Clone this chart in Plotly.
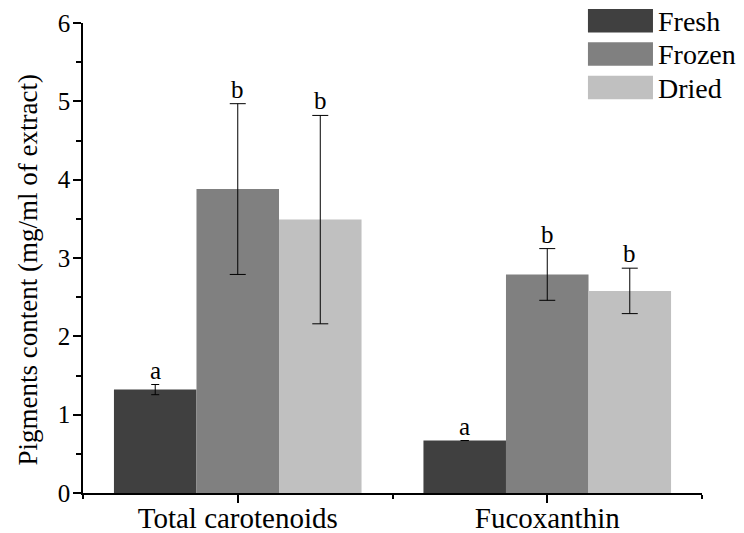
import plotly.graph_objects as go

categories = ["Total carotenoids", "Fucoxanthin"]
series_names = ["Fresh", "Frozen", "Dried"]
fresh = [1.32, 0.67]
frozen = [3.88, 2.79]
dried = [3.49, 2.58]
fresh_err = [0.065, None]
frozen_err = [1.09, 0.33]
dried_err = [1.33, 0.29]
fresh_letters = ["a", "a"]
frozen_letters = ["b", "b"]
dried_letters = ["b", "b"]
y_ticks = [0, 1, 2, 3, 4, 5, 6]
y_title = "Pigments content (mg/ml of extract)"

colors = ["#404040", "#808080", "#c0c0c0"]
cap_widths = [4, 8, 8]
FONT = "Times New Roman, Liberation Serif, serif"

values = [fresh, frozen, dried]
errs = [fresh_err, frozen_err, dried_err]
letters = [fresh_letters, frozen_letters, dried_letters]
xpos = list(range(len(categories)))

fig = go.Figure()
for name, v, e, c, cw in zip(series_names, values, errs, colors, cap_widths):
    fig.add_trace(go.Bar(
        x=xpos, y=v, name=name, marker=dict(color=c, line=dict(width=0)),
        error_y=dict(type="data", array=e, visible=True, color="black",
                     thickness=1, width=cw),
        showlegend=False,
    ))

group_w = 0.8
n = len(series_names)
bw = group_w / n
annotations = []
for j in range(n):
    for i in xpos:
        top = values[j][i] + (errs[j][i] or 0)
        annotations.append(dict(
            x=i + (j - (n - 1) / 2) * bw, y=top, xref="x", yref="y",
            text=letters[j][i], showarrow=False, yanchor="bottom", yshift=-1,
            font=dict(family=FONT, size=25, color="black")))

# window-pixel -> paper helpers (plot area in window pixels)
L, R, T, B = 83.3, 702.0, 23.3, 493.0
def px(x):
    return (x - L) / (R - L)
def py(y):
    return (B - y) / (B - T)

# manual legend (large swatches like the original)
shapes = []
box_tops = [9.3, 42.5, 76.0]
for name, c, bt in zip(series_names, colors, box_tops):
    shapes.append(dict(type="rect", xref="paper", yref="paper",
                       x0=px(588), x1=px(653), y0=py(bt + 23.5), y1=py(bt),
                       fillcolor=c, line=dict(width=0)))
    annotations.append(dict(x=px(656), y=py(bt + 12.5), xref="paper", yref="paper",
                            text=name, showarrow=False, xanchor="left", yanchor="middle",
                            font=dict(family=FONT, size=28, color="black")))

# y-axis title
annotations.append(dict(x=px(28), y=py(270), xref="paper", yref="paper",
                        text=y_title, textangle=-90, showarrow=False,
                        xanchor="center", yanchor="middle",
                        font=dict(family=FONT, size=27, color="black")))

# page body has an 8px margin, so the figure is offset by 8px
fig.update_layout(
    width=736, height=525,
    margin=dict(l=75, r=42, t=15, b=40, autoexpand=False),
    plot_bgcolor="white", paper_bgcolor="white",
    barmode="group", bargap=1 - group_w, bargroupgap=0,
    font=dict(family=FONT, color="black"),
    shapes=shapes, annotations=annotations,
    xaxis=dict(range=[-0.5, len(categories) - 0.5], tickmode="array",
               tickvals=xpos, ticktext=categories, automargin=False,
               ticks="outside", ticklen=8, tickwidth=1.5, tickcolor="black",
               ticklabelstandoff=-10,
               showline=True, linecolor="black", linewidth=1.5,
               showgrid=False, zeroline=False,
               tickfont=dict(family=FONT, size=29, color="black"),
               minor=dict(tickmode="array", tickvals=[-0.5, 0.5, 1.5],
                          ticks="outside", ticklen=4, tickwidth=1.5, tickcolor="black")),
    yaxis=dict(range=[0, 6], tickmode="array", tickvals=y_ticks, automargin=False,
               ticks="outside", ticklen=8, tickwidth=1.5, tickcolor="black",
               ticklabelstandoff=-2,
               showline=True, linecolor="black", linewidth=1.5,
               showgrid=False, zeroline=False,
               tickfont=dict(family=FONT, size=25, color="black"),
               minor=dict(dtick=0.5, ticks="outside", ticklen=5, tickwidth=1.5,
                          tickcolor="black")),
)

fig.write_html("out.html")
